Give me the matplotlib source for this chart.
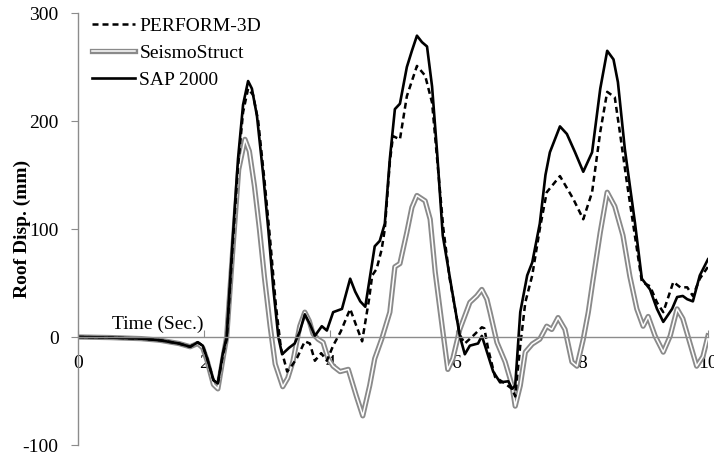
from matplotlib import pyplot as plt
import matplotlib.patheffects as pe
import numpy as np

# roof displacement histories (mm) vs time (s)
t_sap = [0, 0.5, 1.0, 1.3, 1.6, 1.78, 1.9, 1.98, 2.05, 2.15, 2.22, 2.3, 2.36, 2.45, 2.54, 2.62,
         2.70, 2.76, 2.84, 2.94, 3.02, 3.10, 3.18, 3.24, 3.35, 3.44, 3.52, 3.60, 3.68, 3.76,
         3.87, 3.95, 4.05, 4.19, 4.32, 4.40, 4.48, 4.56, 4.67, 4.71, 4.79, 4.87, 4.95, 5.03,
         5.11, 5.22, 5.30, 5.38, 5.46, 5.54, 5.62, 5.70, 5.79, 5.94, 6.06, 6.14, 6.22, 6.35,
         6.41, 6.46, 6.59, 6.70, 6.83, 6.89, 6.94, 7.02, 7.13, 7.21, 7.33, 7.42, 7.49, 7.65,
         7.76, 7.89, 8.02, 8.16, 8.29, 8.40, 8.50, 8.57, 8.68, 8.84, 8.95, 9.08, 9.19, 9.29,
         9.43, 9.51, 9.60, 9.67, 9.76, 9.87, 10.0]
d_sap = [0, -0.5, -1.5, -3, -6, -9, -5, -8, -20, -40, -43, -15, 0, 85, 165, 215,
         237, 230, 205, 150, 100, 45, 0, -16, -10, -6, 5, 21, 12, 1,
         10, 6, 23, 26, 54, 42, 33, 28, 69, 84, 89, 105, 165, 211,
         216, 250, 265, 279, 273, 269, 232, 171, 94, 42, 1, -16, -8, -6,
         1, -8, -32, -42, -41, -48, -45, 23, 57, 69, 105, 150, 171, 195,
         188, 171, 153, 171, 230, 265, 257, 236, 174, 106, 54, 44, 26, 14,
         26, 37, 38, 35, 33, 57, 72]

t_perf = [0, 0.5, 1.0, 1.3, 1.6, 1.78, 1.9, 1.98, 2.05, 2.15, 2.22, 2.3, 2.36, 2.45, 2.54, 2.62,
          2.70, 2.78, 2.86, 2.96, 3.05, 3.14, 3.22, 3.32, 3.40, 3.48, 3.60, 3.68, 3.76, 3.86,
          3.95, 4.05, 4.17, 4.32, 4.42, 4.51, 4.62, 4.67, 4.74, 4.82, 4.87, 4.95, 5.00, 5.11,
          5.22, 5.38, 5.51, 5.62, 5.70, 5.80, 5.90, 6.06, 6.14, 6.27, 6.41, 6.45, 6.51, 6.62,
          6.75, 6.89, 6.94, 7.02, 7.10, 7.21, 7.33, 7.44, 7.65, 7.86, 8.02, 8.16, 8.29, 8.40,
          8.52, 8.60, 8.71, 8.87, 8.95, 9.08, 9.19, 9.29, 9.45, 9.56, 9.67, 9.76, 9.87, 10.0]
d_perf = [0, -0.5, -1.5, -3, -6, -9, -5, -8, -20, -40, -43, -17, -2, 80, 158, 208,
          230, 224, 200, 145, 90, 30, -10, -32, -26, -19, -4, -6, -22, -15,
          -22, -8, 5, 26, 10, -4, 35, 57, 63, 81, 100, 162, 186, 183,
          223, 251, 242, 217, 165, 100, 54, 2, -6, 1, 9, 8, -11, -37,
          -42, -48, -55, -8, 32, 57, 100, 134, 149, 128, 109, 134, 190, 227,
          222, 190, 144, 82, 51, 47, 32, 23, 51, 46, 46, 38, 54, 65]

t_seis = [0, 0.5, 1.0, 1.3, 1.6, 1.78, 1.9, 1.98, 2.05, 2.15, 2.22, 2.3, 2.36, 2.45, 2.55, 2.65,
          2.72, 2.80, 2.88, 2.96, 3.05, 3.13, 3.25, 3.33, 3.41, 3.52, 3.60, 3.67, 3.73, 3.81,
          3.89, 3.97, 4.05, 4.16, 4.29, 4.42, 4.52, 4.63, 4.71, 4.82, 4.95, 5.03, 5.11, 5.22,
          5.30, 5.38, 5.51, 5.59, 5.67, 5.78, 5.87, 5.95, 6.06, 6.22, 6.33, 6.41, 6.49, 6.54,
          6.65, 6.78, 6.89, 6.94, 7.02, 7.10, 7.21, 7.33, 7.44, 7.52, 7.62, 7.73, 7.84, 7.92,
          8.02, 8.10, 8.17, 8.29, 8.40, 8.52, 8.65, 8.76, 8.87, 8.97, 9.05, 9.16, 9.29, 9.40,
          9.51, 9.60, 9.71, 9.82, 9.92, 10.0]
d_seis = [0, -0.5, -1.5, -3, -6, -9, -6, -10, -22, -44, -48, -20, 0, 75, 155, 183,
          172, 140, 100, 55, 10, -25, -46, -38, -23, 10, 23, 15, 3, -2,
          -5, -20, -27, -32, -30, -55, -73, -45, -20, -2, 23, 65, 68, 97,
          120, 131, 126, 109, 60, 10, -30, -20, 7, 32, 38, 44, 35, 23,
          -5, -23, -45, -64, -45, -14, -6.5, -2, 10, 7, 18, 7, -23, -27,
          -2, 23, 51, 97, 134, 121, 94, 56, 26, 10, 19, 1, -14, 1,
          26, 17, -5, -27, -18, 1]

plt.rcParams['font.family'] = ['Liberation Serif', 'DejaVu Serif']
plt.rcParams['font.size'] = 14
plt.rcParams['axes.unicode_minus'] = False

axis_gray = '#8c8c8c'

fig = plt.figure(figsize=(7.14, 4.58), dpi=100)
ax = fig.add_axes([78/714, 13/458, 630/714, 432/458])

# gray double line: thick gray stroke with a white core
seis, = ax.plot(t_seis, d_seis, color='white', lw=1.1, label='SeismoStruct',
                solid_joinstyle='round',
                path_effects=[pe.Stroke(linewidth=3.8, foreground='#8a8a8a', joinstyle='round'),
                              pe.Normal()])
sap, = ax.plot(t_sap, d_sap, color='black', lw=1.9, solid_joinstyle='round', label='SAP 2000')
perf, = ax.plot(t_perf, d_perf, color='black', lw=1.8, dashes=(2.4, 1.6),
                dash_joinstyle='round', label='PERFORM-3D')

ax.set_xlim(0, 10)
ax.set_ylim(-100, 300)
ax.set_xticks(np.arange(0, 11, 2))
ax.set_yticks([-100, 0, 100, 200, 300])

for s in ['top', 'right']:
    ax.spines[s].set_visible(False)
ax.spines['bottom'].set_position(('data', 0))
for s in ['left', 'bottom']:
    ax.spines[s].set_color(axis_gray)
    ax.spines[s].set_linewidth(1.0)

ax.tick_params(axis='x', direction='in', length=5, color=axis_gray, pad=13)
ax.tick_params(axis='y', direction='out', length=5, color=axis_gray, pad=9)

ax.set_ylabel('Roof Disp. (mm)', fontweight='bold')
ax.yaxis.set_label_coords(-0.075, 0.5)
ax.text(0.54, 12, 'Time (Sec.)', ha='left', va='center')

ax.legend(handles=[perf, seis, sap], loc='upper left', bbox_to_anchor=(0.022, 0.99),
          frameon=False, borderpad=0, borderaxespad=0, handlelength=2.2,
          handletextpad=0.25, labelspacing=0.48)

plt.savefig('out.png', dpi=100)
plt.close()
